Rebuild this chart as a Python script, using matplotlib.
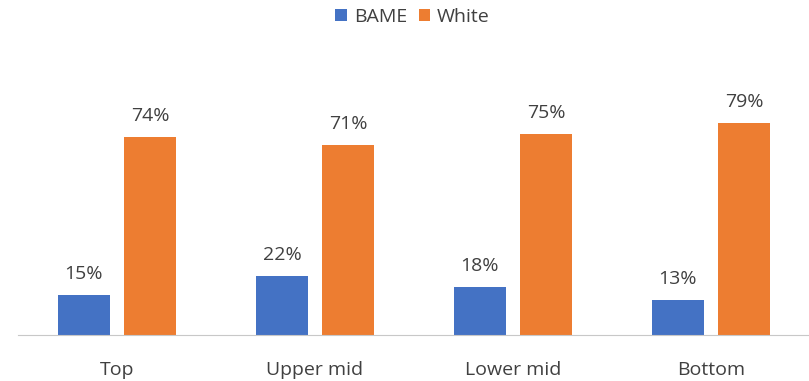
import matplotlib.pyplot as plt
import numpy as np

# data
categories = ["Top", "Upper mid", "Lower mid", "Bottom"]
bame = [15, 22, 18, 13]
white = [74, 71, 75, 79]

BLUE = "#4472C4"
ORANGE = "#ED7D31"

plt.rcParams["font.family"] = ["Open Sans", "DejaVu Sans"]

fig = plt.figure(figsize=(8.09, 3.81), dpi=100)
# axes placed in pixel fractions: left 18, right 810, bottom 335, top 94
W, H = 809, 381
ax = fig.add_axes([18 / W, (H - 335) / H, 792 / W, (335 - 94) / H])

x = np.arange(len(categories))
bw = 0.263
off = 0.167
b1 = ax.bar(x - off, bame, bw, color=BLUE, label="BAME")
b2 = ax.bar(x + off, white, bw, color=ORANGE, label="White")

for bars, vals in ((b1, bame), (b2, white)):
    for rect, v in zip(bars, vals):
        ax.text(rect.get_x() + rect.get_width() / 2, v + 4.5, f"{v}%",
                ha="center", va="bottom", fontsize=14, color="#404040")

ax.set_xlim(-0.5, len(categories) - 0.5)
ax.set_ylim(0, 90)
ax.set_xticks(x)
ax.set_xticklabels(categories, fontsize=14, color="#404040")
ax.tick_params(axis="x", length=0, pad=19)
ax.set_yticks([])
for s in ["top", "right", "left"]:
    ax.spines[s].set_visible(False)
ax.spines["bottom"].set_color("#C8C8C8")

fig.legend(handles=[b1, b2], labels=["BAME", "White"], loc="upper center",
           bbox_to_anchor=(0.51, 1.025), ncol=2, frameon=False, fontsize=14,
           handlelength=0.6, handleheight=0.6, handletextpad=0.35,
           columnspacing=0.6, labelcolor="#404040")

fig.savefig("out.png", dpi=100)
